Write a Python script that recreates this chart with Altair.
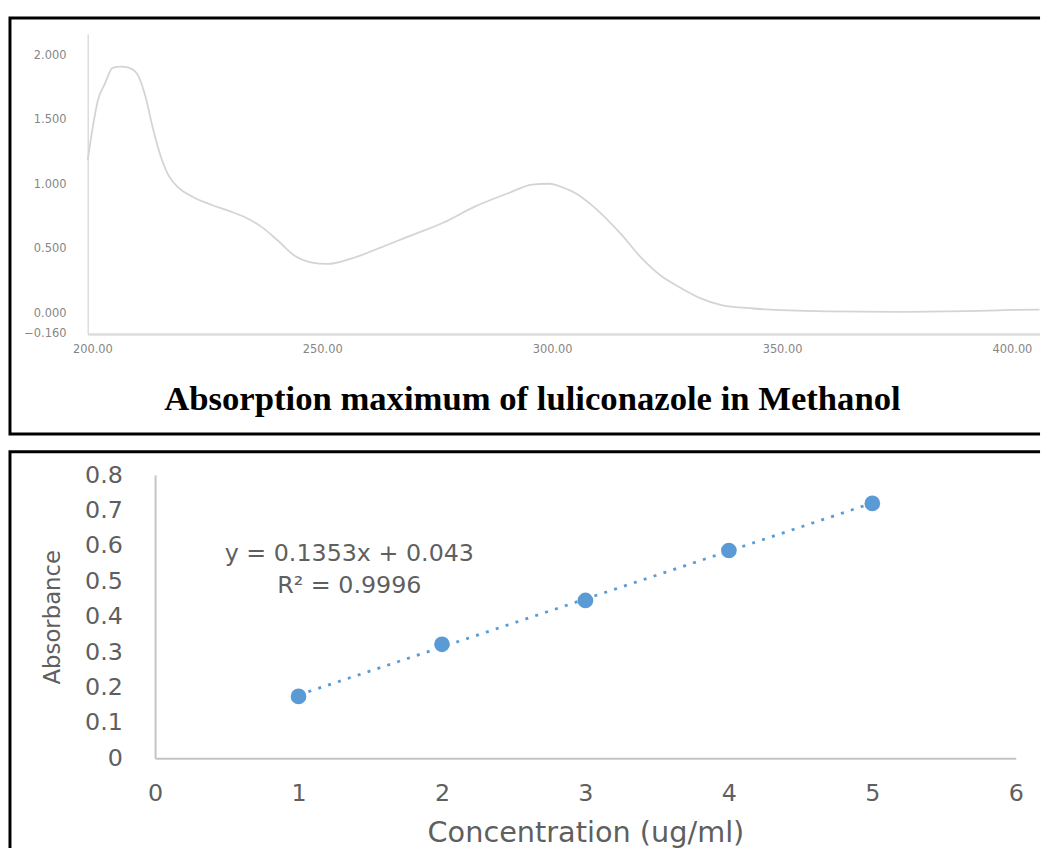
import altair as alt
import pandas as pd

# ---------------- data ----------------
wavelength = [199.0, 200.1, 201.2, 202.7, 204.4, 206.2, 208.0, 209.8, 211.6, 213.1,
              214.9, 216.7, 218.8, 222.0, 226.0, 230.0, 233.2, 236.8, 240.4,
              244.0, 247.5, 251.1, 256.1, 261.9, 269.1, 276.3, 283.4, 290.6, 295.6,
              299.2, 303.5, 305.0, 309.3, 315.0, 319.3, 323.6, 328.0, 332.3, 336.6,
              343.7, 350.0, 360.0, 375.0, 390.0, 400.0, 406.0]
absorbance = [1.190, 1.446, 1.652, 1.779, 1.905, 1.915, 1.905, 1.856, 1.677, 1.446,
              1.215, 1.062, 0.972, 0.900, 0.840, 0.790, 0.745, 0.670, 0.562,
              0.446, 0.395, 0.382, 0.421, 0.498, 0.600, 0.702, 0.831, 0.933, 0.998,
              1.005, 0.959, 0.933, 0.818, 0.613, 0.433, 0.292, 0.195, 0.115, 0.065,
              0.036, 0.023, 0.013, 0.010, 0.015, 0.025, 0.028]

x_ticks_top = [200, 250, 300, 350, 400]
y_ticks_top = [-0.16, 0.0, 0.5, 1.0, 1.5, 2.0]

concentration = [1, 2, 3, 4, 5]
abs_values = [0.175, 0.322, 0.446, 0.587, 0.720]

x_ticks_bot = [0, 1, 2, 3, 4, 5, 6]
y_ticks_bot = [0, 0.1, 0.2, 0.3, 0.4, 0.5, 0.6, 0.7, 0.8]

eq_labels = ["y = 0.1353x + 0.043", "R² = 0.9996"]
eq_conc = [1.354, 1.354]
eq_abs = [0.557, 0.467]

# ---------------- layout ----------------
W = 1040
H_TOP = 420
H_BOT = 400

TEXT_GREY = "#5f5f5f"

top_df = pd.DataFrame({"wavelength": wavelength, "absorbance": absorbance})

top = alt.Chart(top_df).mark_line(
    color="#d4d4d4", strokeWidth=1.8, interpolate="monotone"
).encode(
    x=alt.X(
        "wavelength:Q",
        scale=alt.Scale(domain=[199, 406], range=[78.5, 1039.5], nice=False, zero=False),
        axis=alt.Axis(
            values=x_ticks_top, format=".2f", offset=-(H_TOP - 319),
            ticks=False, grid=False, labelFlush=False, labelPadding=10,
            labelFont="DejaVu Sans", labelFontSize=11.5, labelColor="#858585",
            domainColor="#dcdcdc", domainWidth=2.5,
            title="Absorption maximum of luliconazole in Methanol",
            titleFont="Liberation Serif", titleFontSize=35, titleFontWeight="bold",
            titleColor="black", titleX=527, titleY=76, titleBaseline="alphabetic",
        ),
    ),
    y=alt.Y(
        "absorbance:Q",
        scale=alt.Scale(domain=[-0.16, 2.17], range=[318.8, 15.9], nice=False, zero=False),
        axis=alt.Axis(
            values=y_ticks_top, format=".3f", offset=-78.5,
            ticks=False, grid=False, labelFlush=False, labelPadding=22,
            labelFont="DejaVu Sans", labelFontSize=11.5, labelColor="#858585",
            domainColor="#dcdcdc", domainWidth=1.5, title=None,
        ),
    ),
).properties(
    width=W, height=H_TOP,
    view=alt.ViewBackground(stroke="black", strokeWidth=3,
                            strokeDash=[W, H_TOP, W + H_TOP], fill="white"),
)

pts_df = pd.DataFrame({"conc": concentration, "abs": abs_values})
eq_df = pd.DataFrame({"conc": eq_conc, "abs": eq_abs, "label": eq_labels})

xs = alt.X(
    "conc:Q",
    scale=alt.Scale(domain=[0, 6], range=[146.5, 1015.5], nice=False, zero=False),
    axis=alt.Axis(
        values=x_ticks_bot, format="d", offset=-(H_BOT - 309.5),
        ticks=False, grid=False, labelFlush=False, labelPadding=24,
        labelFont="DejaVu Sans", labelFontSize=24, labelColor=TEXT_GREY,
        domainColor="#c4c4c4", domainWidth=2,
        title="Concentration (ug/ml)", titleFont="DejaVu Sans", titleFontSize=29,
        titleFontWeight="normal", titleColor=TEXT_GREY,
        titleY=84, titleBaseline="alphabetic",
    ),
)
ys = alt.Y(
    "abs:Q",
    scale=alt.Scale(domain=[0, 0.8], range=[309.5, 23.5], nice=False, zero=False),
    axis=alt.Axis(
        values=y_ticks_bot, format=".1~f", offset=-146.5,
        ticks=False, grid=False, labelFlush=False, labelPadding=33,
        labelFont="DejaVu Sans", labelFontSize=24, labelColor=TEXT_GREY,
        domainColor="#c4c4c4", domainWidth=2,
        title="Absorbance", titleFont="DejaVu Sans", titleFontSize=23,
        titleFontWeight="normal", titleColor=TEXT_GREY,
        titleX=-96, titleBaseline="alphabetic",
    ),
)

base = alt.Chart(pts_df).encode(x=xs, y=ys)

trend = base.transform_regression(
    "conc", "abs", extent=[1, 5]
).mark_line(color="#5B9BD5", strokeWidth=2.8, strokeDash=[3, 7.5])

points = base.mark_circle(size=250, color="#5B9BD5", opacity=1)

eq_text = alt.Chart(eq_df).mark_text(
    font="DejaVu Sans", fontSize=24, color=TEXT_GREY, align="center", baseline="alphabetic"
).encode(x="conc:Q", y="abs:Q", text="label:N")

bottom = alt.layer(trend, points, eq_text).properties(
    width=W, height=H_BOT,
    view=alt.ViewBackground(stroke="black", strokeWidth=3,
                            strokeDash=[W, H_BOT + W, H_BOT], fill="white"),
)

chart = alt.vconcat(top, bottom, spacing=14).configure(
    padding={"left": 0, "top": 4, "right": 0, "bottom": 0},
    background="white",
)

chart.save("out.html", embed_options={"renderer": "svg", "actions": False})
